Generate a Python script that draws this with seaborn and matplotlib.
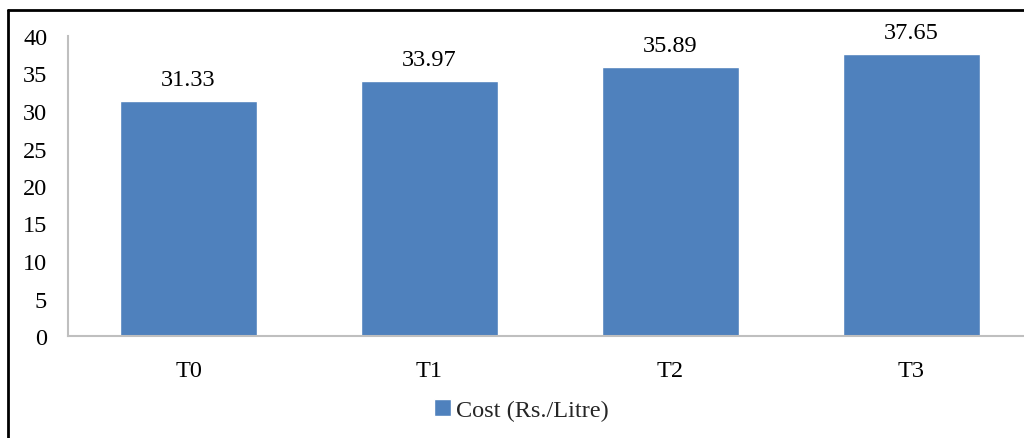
import matplotlib
matplotlib.use("Agg")
import matplotlib.pyplot as plt
import seaborn as sns
import pandas as pd
from matplotlib.lines import Line2D

categories = ["T0", "T1", "T2", "T3"]
costs = [31.33, 33.97, 35.89, 37.65]
series_name = "Cost (Rs./Litre)"
yticks = [0, 5, 10, 15, 20, 25, 30, 35, 40]

sns.set_theme(style="white")
plt.rcParams['font.family'] = ['Liberation Serif', 'DejaVu Serif']

df = pd.DataFrame({"Treatment": categories, "Cost": costs})

fig = plt.figure(figsize=(10.24, 4.39), dpi=100)
ax = fig.add_axes([68/1024, 102/439, 964/1024, 300/439])

sns.barplot(data=df, x="Treatment", y="Cost", color="#4F81BD", saturation=1,
            width=0.565, ax=ax, label=series_name)
if ax.get_legend() is not None:
    ax.get_legend().remove()

ax.set_ylim(0, 40)
ax.set_xlim(-0.5, 3.5)
ax.set_yticks(yticks)
ax.set_xlabel("")
ax.set_ylabel("")
ax.tick_params(axis="y", length=0, pad=15, labelsize=17.5, colors="#000000")
ax.tick_params(axis="x", length=0, pad=17, labelsize=17.5, colors="#000000")
for s in ["top", "right"]:
    ax.spines[s].set_visible(False)
for s in ["left", "bottom"]:
    ax.spines[s].set_color("#BFBFBF")
    ax.spines[s].set_linewidth(1.5)

for c in ax.containers:
    ax.bar_label(c, fmt="%.2f", padding=8, fontsize=17.5, color="#000000")

handles, labels = ax.get_legend_handles_labels()
leg = fig.legend(handles, labels, loc="center", bbox_to_anchor=(521/1024, 1 - 411/439),
                 frameon=False, fontsize=17.5, handlelength=0.7, handleheight=0.7,
                 handletextpad=0.2)

# figure border (top and left)
fig.add_artist(Line2D([8/1024, 1.0], [1 - 11/439, 1 - 11/439], color="black",
                      lw=2, transform=fig.transFigure))
fig.add_artist(Line2D([8/1024, 8/1024], [0, 1 - 11/439], color="black",
                      lw=2, transform=fig.transFigure))

fig.savefig("out.png", dpi=100)
